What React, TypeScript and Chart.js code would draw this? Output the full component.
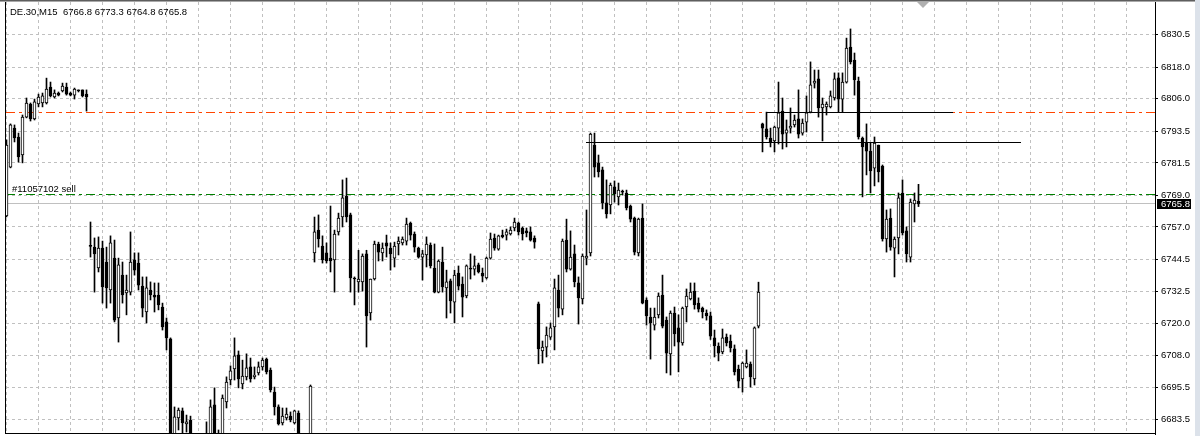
import React, { useEffect, useRef } from 'react';
import { Chart, registerables } from 'chart.js';

Chart.register(...registerables);

const symbolTitle = 'DE.30,M15';

const openPrices = [
  6761.2, 6779.9, 6794.8, 6791.4, 6784.5, 6799.0, 6804.0, 6798.3, 6804.0, 6804.4,
  6804.4, 6810.5, 6806.7, 6808.2, 6809.0, 6810.5, 6808.2, 6807.4, 6809.4, 6809.4,
  6807.8, 6749.7, 6749.3, 6741.3, 6748.9, 6743.6, 6732.9, 6745.1, 6722.2, 6738.6,
  6731.8, 6732.1, 6744.4, 6743.2, 6734.4, 6724.5, 6732.9, 6731.0, 6731.0, 6726.4,
  6720.7, 6714.2, 6675.6, 6684.0, 6686.7, 6681.7, 6683.2, 6675.6, 6671.0, 6674.8,
  6673.7, 6675.6, 6689.0, 6673.7, 6675.6, 6690.1, 6698.5, 6702.7, 6708.1, 6697.0,
  6699.7, 6703.5, 6699.7, 6701.2, 6703.5, 6706.5, 6702.3, 6693.9, 6688.2, 6682.1,
  6684.0, 6684.7, 6682.1, 6685.9, 6675.6, 6672.5, 6675.6, 6747.1, 6755.8, 6749.7,
  6747.1, 6745.1, 6744.4, 6755.1, 6760.8, 6768.8, 6761.6, 6737.5, 6736.0, 6736.0,
  6746.7, 6724.1, 6737.1, 6750.5, 6747.1, 6750.9, 6748.9, 6745.1, 6750.5, 6750.9,
  6751.6, 6758.5, 6754.3, 6748.9, 6745.5, 6746.3, 6750.1, 6741.3, 6732.1, 6743.6,
  6733.7, 6736.4, 6728.3, 6739.4, 6735.2, 6730.6, 6741.3, 6740.9, 6742.5, 6739.4,
  6737.5, 6745.1, 6752.8, 6748.5, 6753.9, 6753.9, 6754.3, 6756.6, 6758.5, 6756.6,
  6755.5, 6755.1, 6752.8, 6727.6, 6709.6, 6711.1, 6714.9, 6718.8, 6732.9, 6725.6,
  6752.0, 6740.9, 6746.7, 6735.6, 6729.5, 6745.1, 6747.1, 6788.3, 6781.5, 6778.8,
  6766.2, 6765.4, 6772.3, 6768.5, 6770.4, 6770.0, 6765.0, 6760.4, 6747.1, 6760.4,
  6729.1, 6722.6, 6719.5, 6723.4, 6731.0, 6721.4, 6708.5, 6724.1, 6718.4, 6712.7,
  6726.4, 6729.5, 6732.5, 6727.9, 6726.0, 6724.1, 6723.0, 6714.6, 6711.5, 6709.2,
  6714.9, 6713.4, 6710.4, 6702.7, 6698.9, 6703.5, 6704.6, 6698.9, 6719.1, 6796.4,
  6794.5, 6791.0, 6789.9, 6794.8, 6801.3, 6792.9, 6794.8, 6796.0, 6798.3, 6792.9,
  6797.1, 6800.9, 6812.0, 6813.6, 6802.5, 6802.9, 6802.9, 6806.3, 6814.0, 6805.9,
  6812.4, 6825.8, 6820.8, 6812.8, 6791.0, 6789.1, 6786.0, 6779.5, 6788.3, 6780.3,
  6752.4, 6760.4, 6748.9, 6752.8, 6770.0, 6755.5, 6745.5, 6765.8, 6766.8,
];

const highPrices = [
  6790.3, 6796.4, 6796.0, 6792.9, 6799.8, 6806.3, 6804.4, 6805.9, 6807.8, 6808.2,
  6813.9, 6812.4, 6809.4, 6808.6, 6812.0, 6812.0, 6808.6, 6810.1, 6809.4, 6809.4,
  6809.4, 6758.9, 6752.8, 6753.2, 6751.6, 6749.3, 6753.6, 6752.0, 6745.1, 6743.6,
  6738.6, 6755.1, 6747.1, 6747.1, 6737.9, 6737.9, 6736.0, 6735.6, 6735.6, 6727.9,
  6722.2, 6714.6, 6688.2, 6687.8, 6687.8, 6685.1, 6684.7, 6677.1, 6676.3, 6676.7,
  6682.5, 6690.9, 6695.5, 6679.4, 6692.8, 6699.7, 6703.9, 6714.6, 6709.6, 6706.1,
  6708.5, 6706.9, 6703.5, 6705.4, 6706.9, 6706.9, 6703.1, 6695.8, 6689.0, 6687.8,
  6687.8, 6686.3, 6687.0, 6686.7, 6676.7, 6677.1, 6696.6, 6760.8, 6761.6, 6753.6,
  6750.9, 6765.0, 6755.8, 6762.3, 6775.0, 6775.7, 6762.3, 6737.9, 6748.1, 6746.7,
  6748.1, 6737.1, 6751.6, 6751.2, 6750.9, 6753.9, 6750.9, 6751.2, 6753.2, 6753.2,
  6760.4, 6758.9, 6755.1, 6749.3, 6748.1, 6753.2, 6750.9, 6750.5, 6744.4, 6749.3,
  6740.5, 6737.1, 6740.5, 6742.1, 6737.9, 6742.5, 6746.7, 6745.9, 6743.2, 6741.3,
  6745.5, 6754.7, 6754.3, 6753.9, 6755.8, 6756.2, 6757.0, 6760.4, 6758.9, 6757.0,
  6756.6, 6757.0, 6753.6, 6728.3, 6713.4, 6718.8, 6720.3, 6737.1, 6738.6, 6752.4,
  6760.0, 6755.5, 6750.1, 6737.9, 6746.7, 6763.5, 6792.9, 6792.9, 6784.5, 6779.9,
  6775.0, 6773.8, 6774.6, 6773.8, 6771.1, 6771.1, 6765.4, 6760.8, 6760.4, 6765.8,
  6729.9, 6726.0, 6726.0, 6731.8, 6738.6, 6722.6, 6724.9, 6726.4, 6723.4, 6726.4,
  6733.3, 6735.6, 6735.6, 6729.9, 6726.4, 6725.3, 6724.5, 6717.6, 6712.7, 6718.0,
  6716.1, 6715.7, 6711.9, 6704.2, 6705.4, 6710.0, 6705.4, 6718.8, 6735.9, 6796.7,
  6800.9, 6794.8, 6795.6, 6812.4, 6806.3, 6797.9, 6802.5, 6799.8, 6809.4, 6798.3,
  6807.1, 6820.1, 6817.0, 6817.0, 6806.3, 6804.8, 6809.0, 6815.9, 6815.9, 6815.9,
  6829.2, 6832.7, 6823.5, 6814.3, 6791.4, 6796.4, 6789.1, 6791.4, 6788.3, 6780.7,
  6763.5, 6763.9, 6753.2, 6770.0, 6775.0, 6757.0, 6767.7, 6770.0, 6773.3,
];

const lowPrices = [
  6760.8, 6779.6, 6789.5, 6781.8, 6781.5, 6798.7, 6797.5, 6797.9, 6802.9, 6802.9,
  6804.0, 6806.7, 6806.3, 6807.1, 6808.6, 6807.4, 6807.1, 6805.9, 6808.6, 6806.7,
  6801.3, 6745.5, 6732.1, 6739.8, 6727.9, 6726.0, 6727.9, 6720.7, 6713.0, 6727.9,
  6723.4, 6731.0, 6738.6, 6732.9, 6722.6, 6720.3, 6729.1, 6724.5, 6725.3, 6717.6,
  6710.0, 6671.8, 6673.7, 6679.4, 6675.6, 6678.6, 6673.7, 6669.9, 6669.9, 6671.0,
  6671.8, 6673.7, 6673.7, 6672.5, 6674.8, 6687.8, 6696.6, 6698.5, 6695.5, 6695.1,
  6698.5, 6697.7, 6698.9, 6700.4, 6702.3, 6700.8, 6693.9, 6685.1, 6681.3, 6681.3,
  6683.2, 6682.5, 6681.7, 6673.7, 6671.8, 6671.8, 6673.7, 6743.6, 6749.3, 6743.2,
  6743.2, 6739.8, 6732.1, 6753.9, 6757.0, 6758.9, 6732.1, 6727.2, 6732.1, 6732.5,
  6711.1, 6721.4, 6736.7, 6744.0, 6744.0, 6745.5, 6740.5, 6741.7, 6746.3, 6750.1,
  6750.1, 6752.0, 6747.4, 6745.1, 6736.7, 6741.7, 6741.3, 6731.8, 6731.8, 6732.1,
  6722.2, 6724.1, 6720.3, 6732.9, 6722.6, 6729.9, 6737.1, 6738.6, 6739.4, 6736.0,
  6737.1, 6744.7, 6748.1, 6748.1, 6752.8, 6752.0, 6753.9, 6755.5, 6753.9, 6752.0,
  6753.2, 6751.6, 6748.9, 6704.7, 6705.0, 6707.3, 6714.0, 6710.0, 6722.6, 6723.4,
  6739.8, 6740.5, 6734.1, 6719.9, 6727.6, 6742.5, 6745.9, 6776.1, 6776.1, 6763.9,
  6760.4, 6762.0, 6766.5, 6765.4, 6769.2, 6763.5, 6758.9, 6746.3, 6745.9, 6727.6,
  6719.5, 6706.5, 6717.6, 6722.2, 6718.4, 6701.2, 6700.4, 6711.5, 6701.6, 6711.8,
  6720.7, 6729.1, 6725.6, 6724.5, 6722.2, 6721.4, 6714.0, 6707.3, 6705.8, 6708.5,
  6711.5, 6709.2, 6700.4, 6695.5, 6693.9, 6703.1, 6695.8, 6696.6, 6718.4, 6785.7,
  6790.6, 6787.6, 6785.7, 6788.7, 6786.8, 6787.6, 6792.9, 6795.2, 6791.0, 6792.1,
  6793.3, 6800.6, 6810.1, 6799.0, 6789.9, 6799.8, 6802.5, 6805.5, 6800.9, 6800.9,
  6812.0, 6819.3, 6807.4, 6790.6, 6768.5, 6776.9, 6770.0, 6772.7, 6774.2, 6751.6,
  6747.4, 6748.1, 6737.9, 6746.7, 6753.9, 6743.6, 6743.6, 6758.9, 6764.8,
];

const closePrices = [
  6788.3, 6796.0, 6791.0, 6783.8, 6799.0, 6804.4, 6798.3, 6804.8, 6806.7, 6807.1,
  6809.7, 6807.1, 6808.2, 6807.4, 6810.9, 6807.8, 6807.4, 6809.7, 6809.0, 6807.1,
  6806.7, 6749.6, 6746.7, 6748.9, 6734.1, 6733.7, 6750.9, 6721.4, 6742.5, 6731.0,
  6732.9, 6743.6, 6740.5, 6734.8, 6726.0, 6733.7, 6731.0, 6730.2, 6727.2, 6718.8,
  6714.6, 6673.7, 6684.4, 6687.0, 6682.1, 6682.5, 6675.6, 6671.8, 6674.8, 6672.5,
  6676.3, 6688.2, 6675.6, 6677.1, 6691.6, 6697.7, 6702.0, 6707.7, 6698.9, 6700.0,
  6703.2, 6698.9, 6700.4, 6703.5, 6706.1, 6701.6, 6694.7, 6688.2, 6681.7, 6684.7,
  6685.5, 6683.2, 6686.7, 6675.6, 6672.5, 6675.6, 6696.2, 6755.1, 6752.4, 6744.4,
  6744.0, 6744.0, 6754.3, 6760.4, 6768.1, 6760.8, 6737.5, 6737.1, 6737.1, 6745.9,
  6723.0, 6737.1, 6750.5, 6747.4, 6748.9, 6749.7, 6746.7, 6749.7, 6751.6, 6752.4,
  6758.1, 6753.9, 6749.3, 6745.5, 6746.7, 6750.5, 6742.1, 6732.1, 6744.0, 6734.1,
  6736.0, 6728.7, 6738.6, 6734.4, 6730.2, 6742.1, 6740.9, 6742.1, 6739.8, 6738.2,
  6745.1, 6752.4, 6748.9, 6753.6, 6753.2, 6755.1, 6755.8, 6758.9, 6755.1, 6754.3,
  6754.7, 6752.0, 6751.2, 6710.4, 6711.1, 6715.7, 6718.4, 6733.7, 6726.0, 6751.6,
  6740.9, 6745.5, 6736.0, 6729.9, 6745.9, 6745.9, 6792.5, 6779.9, 6778.0, 6766.2,
  6762.0, 6773.0, 6769.6, 6771.1, 6770.3, 6764.3, 6760.0, 6747.4, 6760.0, 6727.9,
  6723.0, 6720.3, 6722.6, 6730.6, 6719.1, 6708.8, 6724.1, 6716.1, 6713.0, 6726.0,
  6730.6, 6732.1, 6727.2, 6725.6, 6724.5, 6723.0, 6715.3, 6711.5, 6708.8, 6714.6,
  6712.7, 6710.8, 6701.6, 6698.1, 6705.0, 6705.0, 6699.7, 6718.4, 6732.1, 6794.8,
  6791.4, 6789.5, 6795.2, 6800.6, 6792.5, 6794.1, 6795.6, 6797.9, 6792.5, 6796.7,
  6800.6, 6811.3, 6812.8, 6802.5, 6804.0, 6804.0, 6807.1, 6813.6, 6805.9, 6812.4,
  6825.4, 6820.1, 6813.2, 6791.4, 6787.6, 6786.0, 6778.4, 6789.1, 6778.0, 6752.4,
  6760.0, 6749.3, 6752.4, 6768.1, 6754.7, 6746.7, 6766.5, 6767.3, 6765.8,
];

const yTickValues = [6683.5, 6695.5, 6708.0, 6720.0, 6732.5, 6744.5, 6757.0, 6769.0, 6781.5, 6793.5, 6806.0, 6818.0, 6830.5];

const bidPrice = 6765.8;
const orderPrice = 6769.4;
const orderLabel = '#11057102 sell';
const stopPrice = 6800.6;

const trendStartBars = [189.9, 144.9];
const trendEndBars = [236.7, 253.6];
const trendPrices = [6800.9, 6789.4];

const FONT = "'Liberation Sans', Arial, sans-serif";

export default function App() {
  const canvasRef = useRef<HTMLCanvasElement | null>(null);

  useEffect(() => {
    const canvas = canvasRef.current;
    if (!canvas) return;

    const idx = openPrices.map((_, i) => i);
    const bodyData = idx.map((i) => ({ x: i, y: [openPrices[i], closePrices[i]] }));
    const wickData = idx.map((i) => ({ x: i, y: [lowPrices[i], highPrices[i]] }));
    const bodyColors = idx.map((i) => (closePrices[i] >= openPrices[i] ? '#FFFFFF' : '#000000'));
    const last = openPrices.length - 1;
    const headerValues = `${openPrices[last].toFixed(1)} ${highPrices[last].toFixed(1)} ${lowPrices[last].toFixed(1)} ${closePrices[last].toFixed(1)}`;

    const overlay = {
      id: 'overlay',
      beforeDraw(chart: any) {
        const { ctx, width, height } = chart;
        ctx.save();
        ctx.fillStyle = '#FFFFFF';
        ctx.fillRect(0, 0, width, height);
        ctx.restore();
      },
      beforeDatasetsDraw(chart: any) {
        const { ctx, chartArea: a, scales } = chart;
        const y = scales.y;
        ctx.save();
        ctx.beginPath();
        ctx.rect(a.left, a.top, a.right - a.left, a.bottom - a.top);
        ctx.clip();
        const hline = (price: number, color: string, dash: number[]) => {
          const py = Math.round(y.getPixelForValue(price) - 0.5) + 0.5;
          ctx.strokeStyle = color;
          ctx.lineWidth = 1;
          ctx.setLineDash(dash);
          ctx.beginPath();
          ctx.moveTo(a.left, py);
          ctx.lineTo(a.right, py);
          ctx.stroke();
        };
        hline(bidPrice, '#C0C0C0', []);
        hline(orderPrice, '#008000', [9, 4, 3, 4]);
        hline(stopPrice, '#FF4500', [9, 4, 3, 4]);
        ctx.restore();
      },
      afterDatasetsDraw(chart: any) {
        const { ctx, chartArea: a, scales } = chart;
        const x = scales.x;
        const y = scales.y;
        ctx.save();
        ctx.beginPath();
        ctx.rect(a.left, a.top, a.right - a.left, a.bottom - a.top);
        ctx.clip();
        ctx.setLineDash([]);
        ctx.strokeStyle = '#000000';
        ctx.lineWidth = 1;
        trendPrices.forEach((p, k) => {
          const py = Math.round(y.getPixelForValue(p) - 0.5) + 0.5;
          ctx.beginPath();
          ctx.moveTo(Math.round(x.getPixelForValue(trendStartBars[k])), py);
          ctx.lineTo(Math.round(x.getPixelForValue(trendEndBars[k])), py);
          ctx.stroke();
        });
        ctx.fillStyle = '#000000';
        ctx.font = `9.5px ${FONT}`;
        ctx.textBaseline = 'alphabetic';
        ctx.textAlign = 'left';
        ctx.fillText(orderLabel, 12, Math.round(y.getPixelForValue(orderPrice)) - 3);
        ctx.fillText(symbolTitle, 10, 15);
        ctx.fillText(headerValues, 63, 15);
        ctx.restore();

        ctx.save();
        ctx.fillStyle = '#000000';
        ctx.fillRect(a.left - 1, a.top, 1, a.bottom - a.top);
        ctx.fillRect(a.left - 1, a.bottom - 1, a.right - a.left + 1, 1);
        ctx.fillStyle = '#5E5E5E';
        ctx.fillRect(0, 0, 1195, 1);
        ctx.fillStyle = '#A9A9A9';
        ctx.fillRect(0, 1, 1195, 1);
        ctx.fillStyle = '#DCE2EA';
        ctx.fillRect(1195, 0, 5, chart.height);
        ctx.fillStyle = '#B0B0B0';
        ctx.beginPath();
        ctx.moveTo(917, 2);
        ctx.lineTo(929, 2);
        ctx.lineTo(923, 8);
        ctx.closePath();
        ctx.fill();
        const by = y.getPixelForValue(bidPrice);
        ctx.fillStyle = '#000000';
        ctx.fillRect(a.right + 2, Math.round(by) - 5, 34, 10);
        ctx.fillStyle = '#FFFFFF';
        ctx.font = `9.5px ${FONT}`;
        ctx.textBaseline = 'middle';
        ctx.fillText(bidPrice.toFixed(1), a.right + 6, by);
        ctx.restore();
      },
    };

    const chart = new Chart(canvas, {
      type: 'bar',
      data: {
        datasets: [
          {
            label: 'body',
            data: bodyData as any,
            backgroundColor: bodyColors,
            borderColor: '#000000',
            borderWidth: 1,
            borderSkipped: false,
            barThickness: 3,
            minBarLength: 1,
            grouped: false,
            order: 1,
          } as any,
          {
            label: 'wick',
            data: wickData as any,
            backgroundColor: '#000000',
            borderWidth: 0,
            barThickness: 1,
            grouped: false,
            order: 2,
          } as any,
        ],
      },
      options: {
        animation: false,
        responsive: false,
        maintainAspectRatio: false,
        events: [],
        layout: { padding: { left: 6, top: 2, right: 0, bottom: 2 } },
        plugins: { legend: { display: false }, tooltip: { enabled: false } },
        scales: {
          x: {
            type: 'linear',
            min: -0.125,
            max: 287.125,
            offset: false,
            afterBuildTicks: (s: any) => {
              const t = [];
              for (let v = 0; v <= 287; v += 8) t.push({ value: v });
              s.ticks = t;
            },
            afterFit: (s: any) => {
              s.height = 0;
              s.paddingLeft = 0;
              s.paddingRight = 0;
              s.paddingTop = 0;
              s.paddingBottom = 0;
            },
            ticks: { display: false },
            grid: { color: '#C0C0C0', lineWidth: 1, drawTicks: false, offset: false },
            border: { display: false, dash: [3, 3] },
          },
          y: {
            type: 'linear',
            position: 'right',
            min: 6677.86,
            max: 6843.0,
            beginAtZero: false,
            afterBuildTicks: (s: any) => {
              s.ticks = yTickValues.map((v) => ({ value: v }));
            },
            afterFit: (s: any) => {
              s.width = 45;
              s.paddingTop = 0;
              s.paddingBottom = 0;
              s.paddingLeft = 0;
              s.paddingRight = 0;
            },
            ticks: {
              color: '#000000',
              font: { family: FONT, size: 9.5 },
              padding: 3,
              autoSkip: false,
              callback: (v: any) => Number(v).toFixed(1),
            },
            grid: { color: '#C0C0C0', lineWidth: 1, tickColor: '#000000', tickLength: 3 },
            border: { display: true, color: '#000000', width: 1, dash: [3, 3] },
          },
        },
      } as any,
      plugins: [overlay],
    });

    return () => {
      chart.destroy();
    };
  }, []);

  return (
    <div style={{ position: 'absolute', left: 0, top: 0, width: 1200, height: 436, background: '#FFFFFF' }}>
      <canvas ref={canvasRef} width={1200} height={436} style={{ display: 'block' }} />
    </div>
  );
}
